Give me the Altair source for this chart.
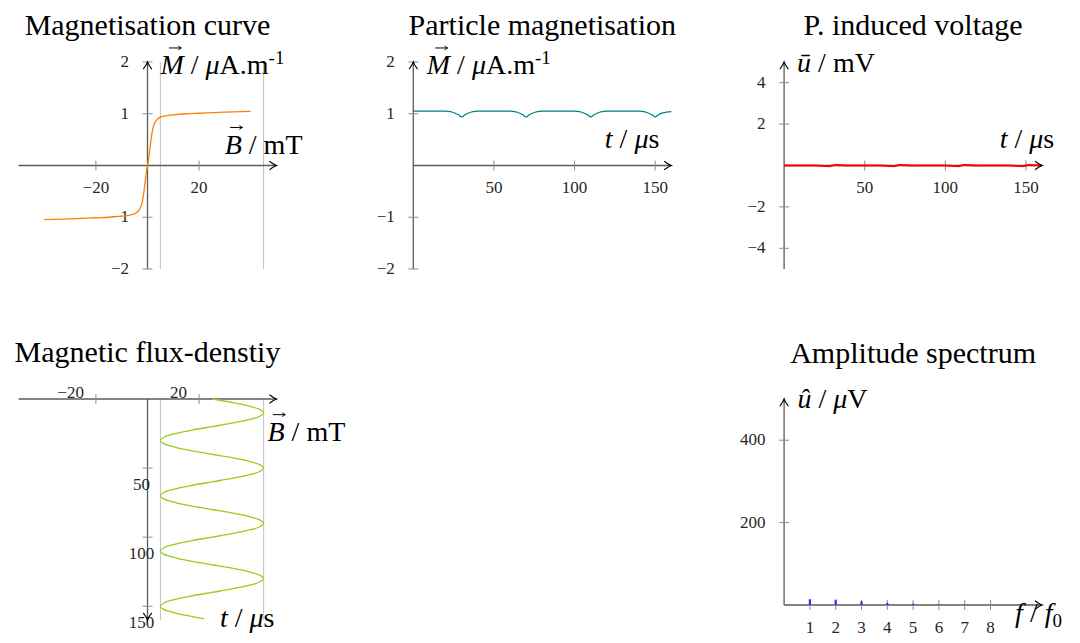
import altair as alt
import pandas as pd

# ---------------- data ----------------
titles = ["Magnetisation curve", "Particle magnetisation", "P. induced voltage",
          "Magnetic flux-denstiy", "Amplitude spectrum"]

# magnetisation curve  M(B)
mag_B = [-40, -30, -20, -15, -10, -7, -5, -4, -3, -2, -1.5, -1, -0.5, 0,
         0.5, 1, 1.5, 2, 3, 4, 5, 7, 10, 15, 20, 30, 40]
mag_M = [-1.045, -1.03, -1.01, -1.0, -0.98, -0.96, -0.935, -0.9, -0.84, -0.7, -0.55, -0.35, -0.15, 0,
         0.15, 0.35, 0.55, 0.7, 0.84, 0.9, 0.935, 0.96, 0.98, 1.0, 1.01, 1.03, 1.045]

# particle magnetisation  M(t)
part_t = [0, 10, 20, 23, 26, 28, 30, 32, 34, 37, 40, 50, 60, 63, 66, 68, 70, 72, 74, 77, 80,
          90, 100, 103, 106, 108, 110, 112, 114, 117, 120, 130, 140, 143, 146, 148, 150, 152, 154, 157, 160]
part_M = [1.05, 1.05, 1.05, 1.04, 1.01, 0.98, 0.94, 0.98, 1.01, 1.04, 1.05, 1.05, 1.05, 1.04, 1.01, 0.98, 0.94, 0.98, 1.01, 1.04, 1.05,
          1.05, 1.05, 1.04, 1.01, 0.98, 0.94, 0.98, 1.01, 1.04, 1.05, 1.05, 1.05, 1.04, 1.01, 0.98, 0.94, 0.98, 1.01, 1.03, 1.04]

# particle induced voltage u(t)
volt_t = [0, 20, 25, 28, 30, 32, 35, 40, 60, 65, 68, 70, 72, 75, 80,
          100, 105, 108, 110, 112, 115, 120, 140, 145, 148, 150, 152, 155, 160]
volt_blue = [0, 0, -0.03, -0.06, 0, 0.06, 0.03, 0, 0, -0.03, -0.06, 0, 0.06, 0.03, 0,
             0, -0.03, -0.06, 0, 0.06, 0.03, 0, 0, -0.03, -0.06, 0, 0.06, 0.03, 0]
volt_red = [0, 0, -0.02, -0.03, 0, 0.02, 0.01, 0, 0, -0.02, -0.03, 0, 0.02, 0.01, 0,
            0, -0.02, -0.03, 0, 0.02, 0.01, 0, 0, -0.02, -0.03, 0, 0.02, 0.01, 0]

# magnetic flux density B(t)
flux_t = [0, 2.5, 5, 7.5, 10, 12.5, 15, 17.5, 20, 22.5, 25, 27.5, 30, 32.5, 35, 37.5,
          40, 42.5, 45, 47.5, 50, 52.5, 55, 57.5, 60, 62.5, 65, 67.5, 70, 72.5, 75, 77.5,
          80, 82.5, 85, 87.5, 90, 92.5, 95, 97.5, 100, 102.5, 105, 107.5, 110, 112.5, 115, 117.5,
          120, 122.5, 125, 127.5, 130, 132.5, 135, 137.5, 140, 142.5, 145, 147.5, 150, 152.5, 155, 157.5,
          159]
flux_B = [25, 32.7, 39.1, 43.5, 45, 43.5, 39.1, 32.7, 25, 17.3, 10.9, 6.5, 5, 6.5, 10.9, 17.3,
          25, 32.7, 39.1, 43.5, 45, 43.5, 39.1, 32.7, 25, 17.3, 10.9, 6.5, 5, 6.5, 10.9, 17.3,
          25, 32.7, 39.1, 43.5, 45, 43.5, 39.1, 32.7, 25, 17.3, 10.9, 6.5, 5, 6.5, 10.9, 17.3,
          25, 32.7, 39.1, 43.5, 45, 43.5, 39.1, 32.7, 25, 17.3, 10.9, 6.5, 5, 6.5, 10.9, 17.3,
          22]

# amplitude spectrum
spec_f = [1, 2, 3, 4, 5, 6, 7, 8]
spec_u = [14, 13, 9, 5, 3, 1.5, 1, 0.5]

# ticks
b_ticks = [-20, 20]
b_tick_labels = ["\u221220", "20"]
m_ticks = [-2, -1, 1, 2]
m_tick_labels = ["\u22122", "\u22121", "1", "2"]
t_ticks = [50, 100, 150]
t_tick_labels = ["50", "100", "150"]
u_ticks = [-4, -2, 2, 4]
u_tick_labels = ["\u22124", "\u22122", "2", "4"]
f_ticks = [1, 2, 3, 4, 5, 6, 7, 8]
f_tick_labels = ["1", "2", "3", "4", "5", "6", "7", "8"]
uh_ticks = [200, 400]
uh_tick_labels = ["200", "400"]
b_range = [5, 45]

# ---------------- style ----------------
SERIF = "Liberation Serif"
AX = "#5b5b5b"
TK = "#8c8c8c"
REF = "#c2c2c2"
LAB = 28
SUP = 19
TICKF = 17
TITLEF = 30
ARROW = "M-1,-0.6 C-0.55,-0.25 -0.2,-0.06 0,0 C-0.2,0.06 -0.55,0.25 -1,0.6"

TNR_R = {" ": 250, "/": 278, ".": 250, "A": 722, "m": 778, "T": 611, "V": 722,
         "s": 389, "-": 333, "1": 500, "0": 500}
TNR_I = {"M": 833, "B": 611, "t": 278, "u": 500, "\u016b": 500, "\u00fb": 500, "f": 278,
         "\u03bc": 500, " ": 250, "/": 278}


def text_w(s, italic, size):
    tab = TNR_I if italic else TNR_R
    return sum(tab.get(c, 500) for c in s) * size / 1000.0


class Panel:
    def __init__(self, xdom, ydom, reverse_y=False):
        self.xs = alt.Scale(domain=xdom, nice=False, zero=False)
        if reverse_y:
            self.ys = alt.Scale(domain=ydom, nice=False, zero=False, reverse=True)
        else:
            self.ys = alt.Scale(domain=ydom, nice=False, zero=False)
        self.layers = []

    def enc(self, **extra):
        d = dict(x=alt.X("x:Q", scale=self.xs, axis=None),
                 y=alt.Y("y:Q", scale=self.ys, axis=None))
        d.update(extra)
        return d

    def hline(self, x1, x2, y, color=AX, sw=1.3):
        df = pd.DataFrame({"x": [x1], "x2": [x2], "y": [y]})
        self.layers.append(alt.Chart(df).mark_rule(color=color, strokeWidth=sw)
                           .encode(**self.enc(x2=alt.X2("x2:Q"))))

    def vlines(self, xs, y1, y2, color=AX, sw=1.3):
        df = pd.DataFrame({"x": xs, "y": [y1] * len(xs), "y2": [y2] * len(xs)})
        self.layers.append(alt.Chart(df).mark_rule(color=color, strokeWidth=sw)
                           .encode(**self.enc(y2=alt.Y2("y2:Q"))))

    def xticks(self, vals, y0):
        df = pd.DataFrame({"x": vals, "y": [y0] * len(vals)})
        self.layers.append(alt.Chart(df).mark_tick(orient="vertical", size=10, thickness=1,
                                                   color=TK, opacity=1).encode(**self.enc()))

    def yticks(self, vals, x0):
        df = pd.DataFrame({"x": [x0] * len(vals), "y": vals})
        self.layers.append(alt.Chart(df).mark_tick(orient="horizontal", size=10, thickness=1,
                                                   color=TK, opacity=1).encode(**self.enc()))

    def xlabels(self, vals, labs, y0, dx=0, dy=22, align="center"):
        df = pd.DataFrame({"x": vals, "y": [y0] * len(vals), "s": labs})
        self.layers.append(alt.Chart(df).mark_text(align=align, baseline="middle", dx=dx, dy=dy,
                                                   font=SERIF, fontSize=TICKF, color="#262626")
                           .encode(**self.enc(text="s:N")))

    def ylabels(self, vals, labs, x0, dx=-18.5, dy=0, align="right"):
        df = pd.DataFrame({"x": [x0] * len(vals), "y": vals, "s": labs})
        self.layers.append(alt.Chart(df).mark_text(align=align, baseline="middle", dx=dx, dy=dy,
                                                   font=SERIF, fontSize=TICKF, color="#262626")
                           .encode(**self.enc(text="s:N")))

    def arrow(self, x, y, angle):
        df = pd.DataFrame({"x": [x], "y": [y]})
        self.layers.append(alt.Chart(df).mark_point(shape=ARROW, filled=False, size=200, angle=angle,
                                                    color="black", strokeWidth=1.1, opacity=1)
                           .encode(**self.enc()))

    def vec_arrow(self, x, y, cx, cy, half=6.0):
        # small vector arrow drawn above a letter, offset in pixels from the data anchor
        df = pd.DataFrame({"x": [x], "x2": [x], "y": [y]})
        self.layers.append(alt.Chart(df).mark_rule(color="black", strokeWidth=1,
                                                   xOffset=cx - half, x2Offset=cx + half,
                                                   yOffset=cy)
                           .encode(**self.enc(x2=alt.X2("x2:Q"))))
        self.layers.append(alt.Chart(df).mark_point(shape=ARROW, filled=False, size=40,
                                                    color="black", strokeWidth=1, opacity=1,
                                                    xOffset=cx + half + 0.5, yOffset=cy)
                           .encode(**self.enc()))

    def curve(self, xv, yv, color, sw=1.3, interp="monotone", ordered=False):
        df = pd.DataFrame({"x": xv, "y": yv, "o": list(range(len(xv)))})
        extra = {"order": alt.Order("o:Q")} if ordered else {}
        self.layers.append(alt.Chart(df).mark_line(color=color, strokeWidth=sw, interpolate=interp)
                           .encode(**self.enc(**extra)))

    def stems(self, xv, yv, color):
        df = pd.DataFrame({"x": xv, "y": [0] * len(xv), "y2": yv})
        self.layers.append(alt.Chart(df).mark_rule(color=color, strokeWidth=2.2)
                           .encode(**self.enc(y2=alt.Y2("y2:Q"))))

    def _text(self, x, y, s, dx, dy, size, italic, align="left"):
        df = pd.DataFrame({"x": [x], "y": [y], "s": [s]})
        kw = dict(align=align, baseline="alphabetic", dx=dx, dy=dy,
                  font=SERIF, fontSize=size, color="black")
        if italic:
            kw["fontStyle"] = "italic"
        self.layers.append(alt.Chart(df).mark_text(**kw).encode(**self.enc(text="s:N")))

    def label(self, x, y, parts, dx0, dy0, align="left"):
        # parts: (text, italic, size, extra_dy, vector_arrow)
        items = []
        for t, it, sz, ddy, vec in parts:
            core = t.strip(" ")
            lead = (len(t) - len(t.lstrip(" "))) * text_w(" ", it, sz)
            trail = (len(t) - len(t.rstrip(" "))) * text_w(" ", it, sz)
            items.append((core, it, sz, ddy, vec, lead, text_w(core, it, sz), trail))
        total = sum(i[5] + i[6] + i[7] for i in items)
        cur = dx0 - total if align == "right" else dx0
        for core, it, sz, ddy, vec, lead, cw, trail in items:
            cur += lead
            self._text(x, y, core, cur, dy0 + ddy, sz, it)
            if vec:
                self.vec_arrow(x, y, cur + cw / 2 + 0.1 * sz, dy0 + ddy - 0.93 * sz)
            cur += cw + trail

    def title(self, text, x, y, dy):
        df = pd.DataFrame({"x": [x], "y": [y], "s": [text]})
        self.layers.append(alt.Chart(df).mark_text(align="center", baseline="alphabetic", dy=dy,
                                                   font=SERIF, fontSize=TITLEF, color="black")
                           .encode(**self.enc(text="s:N")))

    def build(self, w, h):
        return alt.layer(*self.layers).properties(width=w, height=h)


I, R = True, False
M_LABEL = [("M", I, LAB, 0, True), (" / ", R, LAB, 0, False), ("\u03bc", I, LAB, 0, False),
           ("A.m", R, LAB, 0, False), ("-1", R, SUP, -10, False)]
B_LABEL = [("B", I, LAB, 0, True), (" / mT", R, LAB, 0, False)]
T_LABEL = [("t", I, LAB, 0, False), (" / ", R, LAB, 0, False), ("\u03bc", I, LAB, 0, False),
           ("s", R, LAB, 0, False)]
U_LABEL = [("\u016b", I, LAB, 0, False), (" / mV", R, LAB, 0, False)]
UH_LABEL = [("\u00fb", I, LAB, 0, False), (" / ", R, LAB, 0, False), ("\u03bc", I, LAB, 0, False),
            ("V", R, LAB, 0, False)]
F_LABEL = [("f", I, LAB, 0, False), (" / ", R, LAB, 0, False), ("f", I, LAB, 0, False),
           ("0", R, SUP, 5, False)]

TITLE_DY = -27

# ---------- panel 1: magnetisation curve ----------
p1 = Panel([-50, 50], [-2, 2])
p1.vlines(b_range, -2, 2, color=REF, sw=1)
p1.hline(-50, 50, 0)
p1.vlines([0], -2, 2)
p1.xticks(b_ticks, 0)
p1.yticks(m_ticks, 0)
p1.xlabels(b_ticks, b_tick_labels, 0)
p1.ylabels(m_ticks, m_tick_labels, 0)
p1.curve(mag_B, mag_M, "#ff8000")
p1.arrow(50, 0, 0)
p1.arrow(0, 2, 270)
p1.label(0, 2, M_LABEL, 13, 12)
p1.label(50, 0, B_LABEL, 26, -12, align="right")
p1.title(titles[0], 0, 2, TITLE_DY)
c1 = p1.build(258, 207)

# ---------- panel 2: particle magnetisation ----------
p2 = Panel([0, 160], [-2, 2])
p2.hline(0, 160, 0)
p2.vlines([0], -2, 2)
p2.xticks(t_ticks, 0)
p2.yticks(m_ticks, 0)
p2.xlabels(t_ticks, t_tick_labels, 0)
p2.ylabels(m_ticks, m_tick_labels, 0)
p2.curve(part_t, part_M, "#008080")
p2.arrow(160, 0, 0)
p2.arrow(0, 2, 270)
p2.label(0, 2, M_LABEL, 13.5, 12)
p2.label(160, 0, T_LABEL, -12, -17.5, align="right")
p2.title(titles[1], 80, 2, TITLE_DY)
c2 = p2.build(258, 207)

# ---------- panel 3: induced voltage ----------
p3 = Panel([0, 160], [-5, 5])
p3.hline(0, 160, 0)
p3.vlines([0], -5, 5)
p3.xticks(t_ticks, 0)
p3.yticks(u_ticks, 0)
p3.xlabels(t_ticks, t_tick_labels, 0)
p3.ylabels(u_ticks, u_tick_labels, 0)
p3.curve(volt_t, volt_blue, "#4a6ad8", sw=0.8)
p3.curve(volt_t, volt_red, "#ff0000", sw=2.0)
p3.arrow(160, 0, 0)
p3.arrow(0, 5, 270)
p3.label(0, 5, U_LABEL, 13, 10)
p3.label(160, 0, T_LABEL, 12, -17.5, align="right")
p3.title(titles[2], 80, 5, TITLE_DY)
c3 = p3.build(258, 207)

# ---------- panel 4: magnetic flux density ----------
p4 = Panel([-50, 59.22], [0, 160], reverse_y=True)
p4.vlines(b_range, 0, 160, color=REF, sw=1)
p4.hline(-50, 50, 0)
p4.vlines([0], 0, 160)
p4.xticks(b_ticks, 0)
p4.yticks(t_ticks, 0)
p4.xlabels(b_ticks, b_tick_labels, 0, dx=-12, dy=-6, align="right")
p4.ylabels(t_ticks, t_tick_labels, 0, dx=-6, dy=17, align="center")
p4.curve(flux_B, flux_t, "#9ccc1a", interp="catmull-rom", ordered=True)
p4.arrow(50, 0, 0)
p4.arrow(0, 160, 90)
p4.label(50, 0, B_LABEL, -9, 41.7)
p4.label(0, 160, T_LABEL, 72.5, 6.7)
p4.title(titles[3], 0, 0, -37)
c4 = p4.build(281.8, 221)

# ---------- empty cell ----------
empty = alt.Chart(pd.DataFrame({"x": [0], "y": [0]})).mark_point(opacity=0).encode(
    x=alt.X("x:Q", axis=None), y=alt.Y("y:Q", axis=None)).properties(width=10, height=10)

# ---------- panel 5: amplitude spectrum ----------
p5 = Panel([0, 10], [0, 500])
p5.hline(0, 10, 0)
p5.vlines([0], 0, 500)
p5.xticks(f_ticks, 0)
p5.yticks(uh_ticks, 0)
p5.xlabels(f_ticks, f_tick_labels, 0, dy=23)
p5.ylabels(uh_ticks, uh_tick_labels, 0)
p5.stems(spec_f, spec_u, "#2b2bff")
p5.arrow(10, 0, 0)
p5.arrow(0, 500, 270)
p5.label(0, 500, UH_LABEL, 13.4, 9)
p5.label(10, 0, F_LABEL, -27, 17)
p5.title(titles[4], 5, 500, -36)
c5 = p5.build(258, 206)

chart = alt.concat(
    c1, c2, c3, c4, empty, c5,
    columns=3,
    spacing={"row": 130, "column": 112.8},
    bounds="flush",
    align="each",
).properties(
    padding={"left": 6.5, "top": 3, "right": 2, "bottom": 2}
).configure_view(strokeWidth=0)

chart.save("out.html", embed_options={"renderer": "svg", "actions": False})
